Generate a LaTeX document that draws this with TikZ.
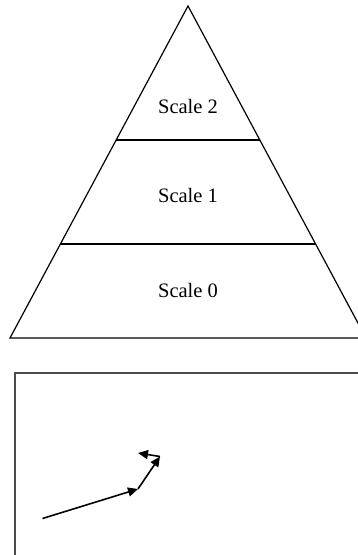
\documentclass[tikz,border=0pt]{standalone}
\usepackage{fontspec}
\setmainfont{Liberation Serif}
\usetikzlibrary{arrows.meta}
\begin{document}
\begin{tikzpicture}[x=1pt,y=-1pt,
  edge/.style={line width=1.2pt,black},
  lbl/.style={font=\fontsize{20.5}{24}\selectfont,inner sep=0pt},
  vec/.style={line width=1.6pt,-{Triangle[length=10pt,width=9pt]}}]
\useasboundingbox (0,0) rectangle (358,555);
\clip (0,0) rectangle (358,555);
% pyramid
\coordinate (apex) at (188,6);
\coordinate (bl) at (10,338);
\coordinate (br) at (366,338);
\draw[edge] (bl) -- (apex) -- (br) -- cycle;
\coordinate (l2a) at (116,140);
\coordinate (l2b) at (260,140);
\coordinate (l1a) at (60,244);
\coordinate (l1b) at (316,244);
\draw[edge] (l2a) -- (l2b);
\draw[edge] (l1a) -- (l1b);
\node[lbl] (s2) at (188,106) {Scale 2};
\node[lbl] (s1) at (188,195) {Scale 1};
\node[lbl] (s0) at (188,290) {Scale 0};
% box
\draw[line width=2pt,black!70] (15,373) rectangle (380,600);
% vectors
\coordinate (p0) at (42.5,518.5);
\coordinate (p1) at (138,489);
\coordinate (p2) at (160,456.5);
\coordinate (p3) at (138,453);
\draw[vec] (p0) -- (p1);
\draw[vec] (p1) -- (p2);
\draw[vec] (p2) -- (p3);
\end{tikzpicture}
\end{document}
